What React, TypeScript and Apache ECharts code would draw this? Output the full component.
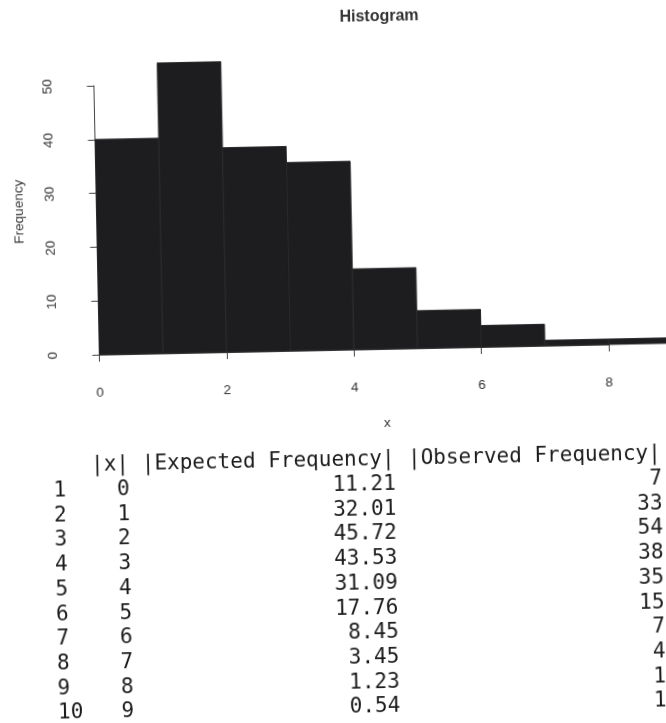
import React, { useEffect, useRef } from "react";
import * as echarts from "echarts";

// ---- data ----
const histBreaks = [0, 1, 2, 3, 4, 5, 6, 7, 8, 9];
const histCounts = [40, 54, 38, 35, 15, 7, 4, 1, 1];

const chartTitle = "Histogram";
const xAxisTitle = "x";
const yAxisTitle = "Frequency";

const tableHeaders = ["|x|", "|Expected Frequency|", "|Observed Frequency|"];
const rowNames = ["1", "2", "3", "4", "5", "6", "7", "8", "9", "10"];
const xValues = [0, 1, 2, 3, 4, 5, 6, 7, 8, 9];
const expectedFreq = [11.21, 32.01, 45.72, 43.53, 31.09, 17.76, 8.45, 3.45, 1.23, 0.54];
const observedFreq = [7, 33, 54, 38, 35, 15, 7, 4, 1, 1];

// ---- layout ----
const W = 666;
const H = 723;
const SANS = '"Liberation Sans", Arial, Helvetica, sans-serif';
const MONO = '"DejaVu Sans Mono", "Liberation Mono", monospace';
const AXIS_COLOR = "#444";
const LABEL_COLOR = "#333";
const BAR_FILL = "#1d1d1f";
const BAR_STROKE = "#2a2a2c";
const TEXT_COLOR = "#1c1c1c";

const TX0 = 51;
const CW = 12.68;
const HEADER_Y = 459;
const ROW_Y0 = 484;
const ROW_DY = 24.7;
const MONO_SIZE = 21;

function buildTable(): any[] {
  const els: any[] = [];
  const mk = (text: string, x: number, y: number, align: string) => ({
    type: "text",
    x,
    y,
    silent: true,
    style: {
      text,
      fill: TEXT_COLOR,
      fontSize: MONO_SIZE,
      lineHeight: 18,
      fontFamily: MONO,
      align,
      verticalAlign: "middle",
    },
  });
  const headerCols = [3, 7, 28];
  tableHeaders.forEach((h, i) => {
    els.push(mk(h, TX0 + headerCols[i] * CW, HEADER_Y, "left"));
  });
  rowNames.forEach((rn, i) => {
    const y = ROW_Y0 + i * ROW_DY;
    els.push(mk(rn, TX0, y, "left"));
    els.push(mk(String(xValues[i]), TX0 + 6 * CW, y, "right"));
    els.push(mk(expectedFreq[i].toFixed(2), TX0 + 27 * CW, y, "right"));
    els.push(mk(String(observedFreq[i]), TX0 + 48 * CW, y, "right"));
  });
  return els;
}

export default function App() {
  const ref = useRef<HTMLDivElement>(null);

  useEffect(() => {
    document.body.style.margin = "0";
    document.body.style.overflow = "hidden";
    document.documentElement.style.overflow = "hidden";
    if (!ref.current) return;
    const chart = echarts.init(ref.current, null, { renderer: "svg", width: W, height: H });

    const histData = histCounts.map((c, i) => [histBreaks[i], histBreaks[i + 1], c]);

    const option: any = {
      animation: false,
      backgroundColor: "#ffffff",
      grid: { left: 99.5, right: 57.2, top: 81, bottom: 373, containLabel: false },
      xAxis: {
        type: "value",
        min: 0,
        max: 8,
        interval: 2,
        offset: 13.5,
        axisLine: { show: true, lineStyle: { color: AXIS_COLOR, width: 1 } },
        axisTick: { show: true, length: 7, lineStyle: { color: AXIS_COLOR, width: 1 } },
        axisLabel: { margin: 17, fontSize: 13.5, color: LABEL_COLOR, fontFamily: SANS },
        splitLine: { show: false },
      },
      yAxis: {
        type: "value",
        min: 0,
        max: 50,
        interval: 10,
        offset: 22.5,
        axisLine: { show: true, lineStyle: { color: AXIS_COLOR, width: 1 } },
        axisTick: { show: true, length: 7, lineStyle: { color: AXIS_COLOR, width: 1 } },
        axisLabel: { margin: 18, rotate: 90, fontSize: 13.5, color: LABEL_COLOR, fontFamily: SANS },
        splitLine: { show: false },
      },
      series: [
        {
          type: "custom",
          clip: false,
          data: histData,
          encode: { x: [0, 1], y: 2 },
          renderItem: (params: any, api: any) => {
            const x0 = api.value(0);
            const x1 = api.value(1);
            const c = api.value(2);
            const pTop = api.coord([x0, c]);
            const pBot = api.coord([x1, 0]);
            return {
              type: "rect",
              shape: {
                x: pTop[0],
                y: pTop[1],
                width: pBot[0] - pTop[0],
                height: pBot[1] - pTop[1],
              },
              style: { fill: BAR_FILL, stroke: BAR_STROKE, lineWidth: 1 },
            };
          },
        },
      ],
      graphic: [
        {
          type: "text",
          x: 386,
          y: 16,
          silent: true,
          style: {
            text: chartTitle,
            fill: "#333",
            fontSize: 16,
            fontWeight: "bold",
            fontFamily: SANS,
            align: "center",
            verticalAlign: "middle",
          },
        },
        {
          type: "text",
          x: 386,
          y: 423,
          silent: true,
          style: {
            text: xAxisTitle,
            fill: LABEL_COLOR,
            fontSize: 13.5,
            fontFamily: SANS,
            align: "center",
            verticalAlign: "middle",
          },
        },
        {
          type: "text",
          x: 21,
          y: 205.5,
          rotation: Math.PI / 2,
          silent: true,
          style: {
            text: yAxisTitle,
            fill: LABEL_COLOR,
            fontSize: 13.5,
            fontFamily: SANS,
            align: "center",
            verticalAlign: "middle",
          },
        },
        ...buildTable(),
      ],
    };

    chart.setOption(option);
    return () => {
      chart.dispose();
    };
  }, []);

  return (
    <div
      ref={ref}
      style={{
        position: "fixed",
        left: 0,
        top: 0,
        width: W,
        height: H,
        background: "#fff",
        transform: "rotate(-1.15deg)",
        transformOrigin: "50% 50%",
      }}
    />
  );
}
